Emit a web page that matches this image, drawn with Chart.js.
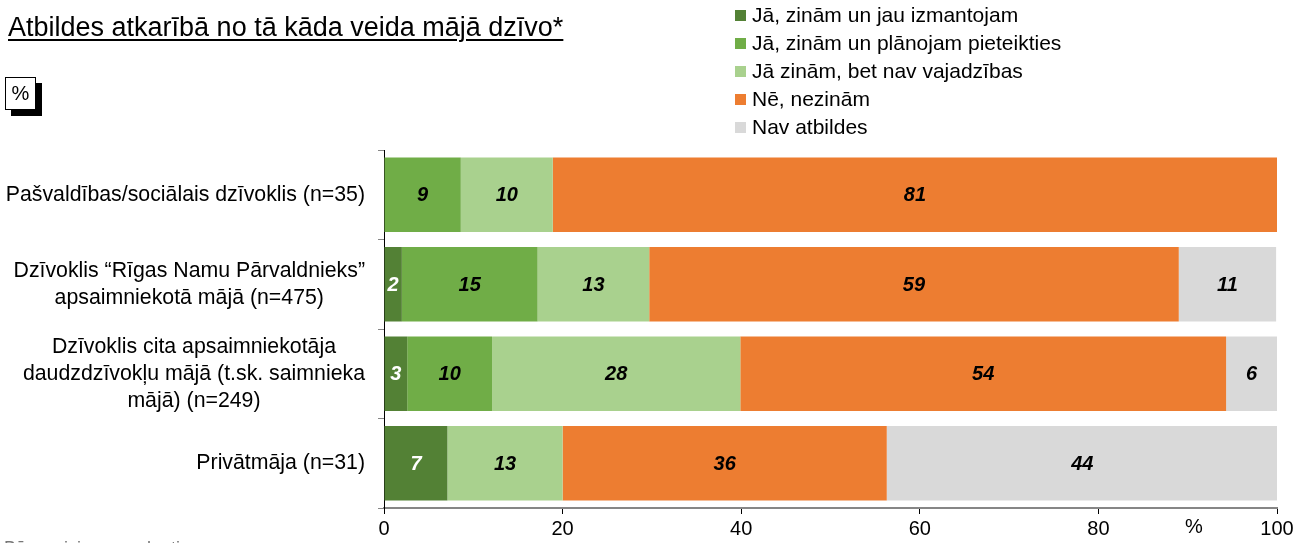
<!DOCTYPE html>
<html>
<head>
<meta charset="utf-8">
<script src="https://cdn.jsdelivr.net/npm/chart.js@4.4.1/dist/chart.umd.min.js"></script>
<style>
  body { margin: 0; background: #fff; font-family: Arial, "Liberation Sans", sans-serif; }
  #wrap { position: relative; width: 1308px; height: 543px; overflow: hidden; }
  #chart { position: absolute; left: 0; top: 0; }
  .title { position: absolute; left: 8px; top: 12px; font-size: 27px; text-decoration: underline; text-underline-offset: 3px; text-decoration-thickness: 2px; color: #000; white-space: nowrap; }
  .pct-box { position: absolute; left: 5px; top: 77px; width: 29px; height: 31px; border: 1px solid #000; background: #fff; box-shadow: 6px 6px 0 #000; font-size: 20px; text-align: center; line-height: 31px; }
  #legend { position: absolute; left: 735px; top: 2px; font-size: 21px; color: #000; }
  #legend div { height: 28px; line-height: 26px; white-space: nowrap; }
  #legend span { display: inline-block; width: 11px; height: 11px; margin-right: 6px; vertical-align: 1px; }
  .axis-pct { position: absolute; left: 1185px; top: 515px; font-size: 20px; }
  .base { position: absolute; left: 4px; top: 538px; font-size: 18px; color: #777; white-space: nowrap; }
</style>
</head>
<body>
<div id="wrap">
  <canvas id="chart" width="1308" height="543"></canvas>
  <div class="title">Atbildes atkarībā no tā kāda veida mājā dzīvo*</div>
  <div class="pct-box">%</div>
  <div id="legend"></div>
  <div class="axis-pct">%</div>
  <div class="base">Bāze: visi respondenti</div>
</div>
<script>
const categories = [
  ['Pašvaldības/sociālais dzīvoklis (n=35)'],
  ['Dzīvoklis \u201cRīgas Namu Pārvaldnieks\u201d', 'apsaimniekotā mājā (n=475)'],
  ['Dzīvoklis cita apsaimniekotāja', 'daudzdzīvokļu mājā (t.sk. saimnieka', 'mājā) (n=249)'],
  ['Privātmāja (n=31)']
];

const seriesNames = [
  'Jā, zinām un jau izmantojam',
  'Jā, zinām un plānojam pieteikties',
  'Jā zinām, bet nav vajadzības',
  'Nē, nezinām',
  'Nav atbildes'
];

const seriesColors = ['#538135', '#70AD47', '#A9D18E', '#ED7D31', '#D9D9D9'];
const labelColors = ['#fff', '#000', '#000', '#000', '#000'];

// values per series, one per category (0 = no segment)
const useNow = [0, 2.0, 2.6, 7.1];
const planning = [8.6, 15.2, 9.5, 0];
const noNeed = [10.3, 12.5, 27.8, 12.9];
const dontKnow = [81.1, 59.3, 54.4, 36.3];
const noAnswer = [0, 10.9, 5.7, 43.8];

const xTicks = [0, 20, 40, 60, 80, 100];

const seriesValues = [useNow, planning, noNeed, dontKnow, noAnswer];

// html legend
const legendEl = document.getElementById('legend');
seriesNames.forEach((name, i) => {
  const row = document.createElement('div');
  row.innerHTML = '<span style="background:' + seriesColors[i] + '"></span>' + name;
  legendEl.appendChild(row);
});

const FONT = 'Arial, "Liberation Sans", sans-serif';

const barLabels = {
  id: 'barLabels',
  afterDatasetsDraw(chart) {
    const ctx = chart.ctx;
    ctx.save();
    ctx.font = 'italic bold 20px ' + FONT;
    ctx.textAlign = 'center';
    ctx.textBaseline = 'middle';
    chart.data.datasets.forEach((ds, i) => {
      chart.getDatasetMeta(i).data.forEach((bar, j) => {
        const v = ds.data[j];
        if (!v) return;
        const mid = (bar.x + bar.base) / 2;
        ctx.fillStyle = labelColors[i];
        ctx.fillText(Math.round(v), mid, bar.y + 1);
      });
    });
    ctx.restore();
  }
};

// category labels: block right aligned, lines centred within block
const catLabels = {
  id: 'catLabels',
  afterDraw(chart) {
    const ctx = chart.ctx;
    const y = chart.scales.y;
    const right = y.left + y.width - 19;
    ctx.save();
    ctx.font = '21.3px ' + FONT;
    ctx.fillStyle = '#000';
    ctx.textBaseline = 'middle';
    ctx.textAlign = 'center';
    const lh = 27;
    categories.forEach((lines, i) => {
      const cy = y.getPixelForTick(i);
      const widest = Math.max(...lines.map(l => ctx.measureText(l).width));
      const cx = right - widest / 2;
      lines.forEach((l, k) => {
        ctx.fillText(l, cx, cy + (k - (lines.length - 1) / 2) * lh);
      });
    });
    ctx.restore();
  }
};

new Chart(document.getElementById('chart'), {
  type: 'bar',
  data: {
    labels: categories.map(c => c.join(' ')),
    datasets: seriesNames.map((name, i) => ({
      label: name,
      data: seriesValues[i],
      backgroundColor: seriesColors[i],
      borderWidth: 0,
      categoryPercentage: 1,
      barPercentage: 0.83
    }))
  },
  options: {
    indexAxis: 'y',
    responsive: false,
    animation: false,
    layout: { padding: { left: 0, top: 150, right: 31, bottom: 0 } },
    plugins: { legend: { display: false }, tooltip: { enabled: false } },
    scales: {
      x: {
        stacked: true,
        min: 0,
        max: 100,
        afterBuildTicks: s => { s.ticks = xTicks.map(v => ({ value: v })); },
        afterFit: s => { s.height = 35; },
        ticks: { color: '#000', font: { family: FONT, size: 20 }, padding: 3 },
        grid: { drawOnChartArea: false, drawTicks: true, tickLength: 6, color: '#000' },
        border: { color: '#868686', width: 2 }
      },
      y: {
        stacked: true,
        afterFit: s => { s.width = 384; },
        ticks: { display: false },
        grid: { drawOnChartArea: false, drawTicks: true, tickLength: 6, offset: true, color: '#868686' },
        border: { color: '#000', width: 1 }
      }
    }
  },
  plugins: [barLabels, catLabels]
});
</script>
</body>
</html>
